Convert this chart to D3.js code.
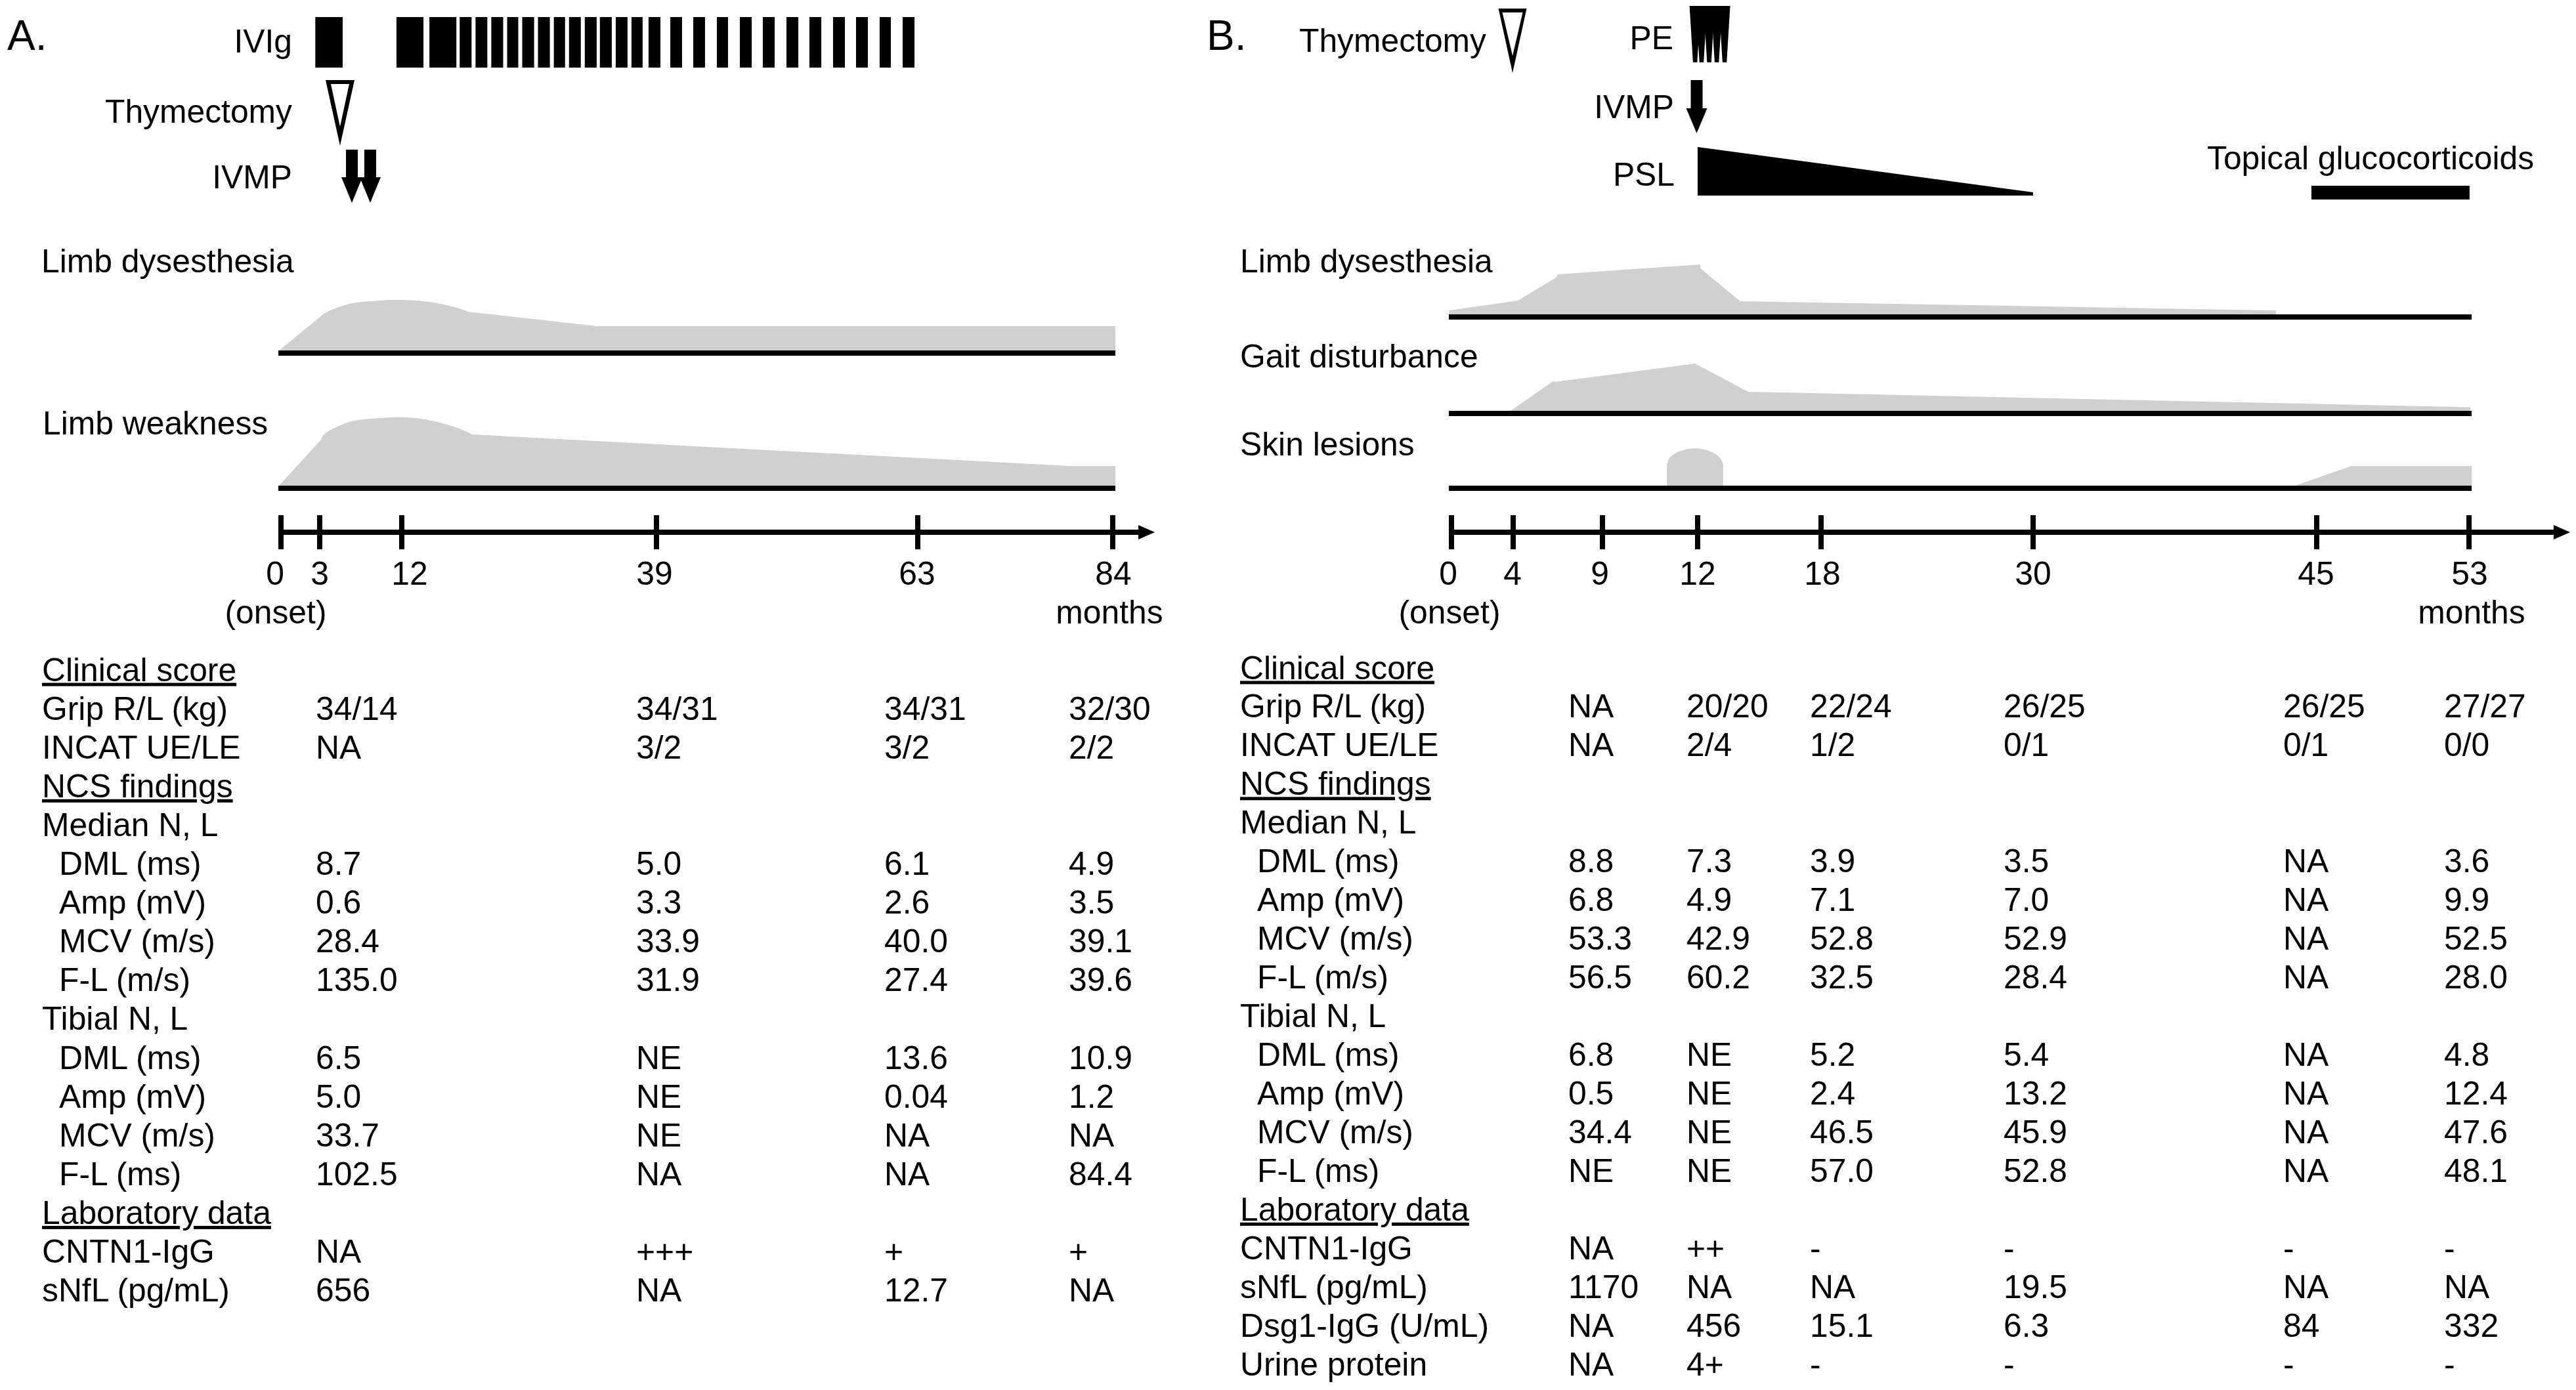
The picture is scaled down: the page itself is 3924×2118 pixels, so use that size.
<!DOCTYPE html>
<html lang="en">
<head>
<meta charset="utf-8">
<title>Clinical course of two cases</title>
<script src="https://d3js.org/d3.v7.min.js"></script>
<style>
  html, body { margin: 0; background: #fff; }
  text { font-family: "Liberation Sans", Arial, sans-serif; font-size: 49.8px; fill: #000; }
</style>
</head>
<body>
<script>
// ---- panel A data (months since onset) ----
const ticksA = [0, 3, 12, 39, 63, 84];
const ivigStartA = [2.66, 11.42, 14.93, 18.14, 19.82, 21.49, 23.17, 24.77, 26.44, 28.12, 29.73, 31.40, 33.00, 34.68, 36.35, 38.16, 40.27, 42.38, 44.55, 46.66, 48.77, 50.94, 53.05, 55.22, 57.33, 59.50, 61.61];
const ivigEndA   = [5.52, 14.30, 17.79, 19.40, 21.07, 22.75, 24.35, 26.03, 27.70, 29.31, 30.98, 32.66, 34.26, 35.93, 37.53, 39.36, 41.35, 43.46, 45.57, 47.75, 49.86, 52.03, 54.14, 56.31, 58.42, 60.53, 62.70];
const thymectomyA = [5.23];
const ivmpA = [6.53, 8.54];
const dysMonthsA = [-0.15, 3.29, 3.86, 6.24, 8.69, 11.06, 13.40, 15.77, 18.07, 18.98, 32.73, 84.28];
const dysLevelsA = [0, 5.4, 5.9, 7.1, 7.5, 7.7, 7.6, 7.2, 6.4, 5.9, 3.7, 3.7];
const weakMonthsA = [-0.15, 3.14, 3.86, 6.24, 8.69, 11.06, 13.40, 15.77, 18.07, 19.47, 79.4, 84.28];
const weakLevelsA = [0, 7.0, 8.2, 9.7, 10.2, 10.4, 10.3, 9.7, 8.7, 7.8, 3.0, 3.0];

const rowsA = ["Clinical score", "Grip R/L (kg)", "INCAT UE/LE", "NCS findings", "Median N, L", "DML (ms)", "Amp (mV)", "MCV (m/s)", "F-L (m/s)", "Tibial N, L", "DML (ms)", "Amp (mV)", "MCV (m/s)", "F-L (ms)", "Laboratory data", "CNTN1-IgG", "sNfL (pg/mL)"];
const col1A = ["", "34/14", "NA", "", "", "8.7", "0.6", "28.4", "135.0", "", "6.5", "5.0", "33.7", "102.5", "", "NA", "656"];
const col2A = ["", "34/31", "3/2", "", "", "5.0", "3.3", "33.9", "31.9", "", "NE", "NE", "NE", "NA", "", "+++", "NA"];
const col3A = ["", "34/31", "3/2", "", "", "6.1", "2.6", "40.0", "27.4", "", "13.6", "0.04", "NA", "NA", "", "+", "12.7"];
const col4A = ["", "32/30", "2/2", "", "", "4.9", "3.5", "39.1", "39.6", "", "10.9", "1.2", "NA", "84.4", "", "+", "NA"];

// ---- panel B data ----
const ticksB = [0, 4, 9, 12, 18, 30, 45, 53];
const thymectomyB = [3.96];
const peB = [11.92, 12.19, 12.56, 12.93, 13.31];
const ivmpB = [11.97];
const pslMonthsB = [12, 30];
const pslLevelsB = [7.4, 0.5];
const topicalB = [44.72, 53.03];
const dysMonthsB = [-0.15, 4.26, 6.39, 6.5, 12.13, 12.14, 14.07, 42.85];
const dysLevelsB = [0.6, 2.1, 5.6, 6.1, 7.6, 7.0, 2.0, 0.6];
const gaitMonthsB = [3.83, 6.28, 6.30, 11.92, 14.46, 53.07];
const gaitLevelsB = [0, 4.6, 4.4, 7.2, 2.9, 0.55];
const skinMonths1B = [11.03, 11.11, 11.32, 11.61, 11.92, 12.35, 12.77, 13.09, 13.24];
const skinLevels1B = [3.2, 4.2, 5.0, 5.5, 5.7, 5.5, 5.0, 4.2, 3.2];
const skinMonths2B = [43.85, 46.83, 53.14];
const skinLevels2B = [0, 3.0, 3.0];

const rowsB = ["Clinical score", "Grip R/L (kg)", "INCAT UE/LE", "NCS findings", "Median N, L", "DML (ms)", "Amp (mV)", "MCV (m/s)", "F-L (m/s)", "Tibial N, L", "DML (ms)", "Amp (mV)", "MCV (m/s)", "F-L (ms)", "Laboratory data", "CNTN1-IgG", "sNfL (pg/mL)", "Dsg1-IgG (U/mL)", "Urine protein"];
const col1B = ["", "NA", "NA", "", "", "8.8", "6.8", "53.3", "56.5", "", "6.8", "0.5", "34.4", "NE", "", "NA", "1170", "NA", "NA"];
const col2B = ["", "20/20", "2/4", "", "", "7.3", "4.9", "42.9", "60.2", "", "NE", "NE", "NE", "NE", "", "++", "NA", "456", "4+"];
const col3B = ["", "22/24", "1/2", "", "", "3.9", "7.1", "52.8", "32.5", "", "5.2", "2.4", "46.5", "57.0", "", "-", "NA", "15.1", "-"];
const col4B = ["", "26/25", "0/1", "", "", "3.5", "7.0", "52.9", "28.4", "", "5.4", "13.2", "45.9", "52.8", "", "-", "19.5", "6.3", "-"];
const col5B = ["", "26/25", "0/1", "", "", "NA", "NA", "NA", "NA", "", "NA", "NA", "NA", "NA", "", "-", "NA", "84", "-"];
const col6B = ["", "27/27", "0/0", "", "", "3.6", "9.9", "52.5", "28.0", "", "4.8", "12.4", "47.6", "48.1", "", "-", "NA", "332", "-"];

const headerRows = ["Clinical score", "NCS findings", "Laboratory data"];
const plainRows = ["Grip R/L (kg)", "INCAT UE/LE", "Median N, L", "Tibial N, L", "CNTN1-IgG", "sNfL (pg/mL)", "Dsg1-IgG (U/mL)", "Urine protein"];

// ---- layout ----
const w = 3924, h = 2118;
const grey = "#d0d0d0";
const axisY = 811;

// both time axes are not to scale, so the scales are piecewise
const xA = d3.scaleLinear().domain(ticksA).range([428, 487, 612, 1000, 1398, 1695]);
const xB = d3.scaleLinear().domain(ticksB).range([2211, 2305, 2441, 2586, 2774, 3097, 3529, 3761]);
// 10px per severity unit, counted up from each baseline
const level = d3.scaleLinear().domain([0, 10]).range([0, 100]);

const svg = d3.select("body").append("svg")
  .attr("width", w)
  .attr("height", h)
  .style("display", "block");

function label(txt, x, y, anchor, size) {
  return svg.append("text")
    .attr("x", x).attr("y", y)
    .attr("text-anchor", anchor || "start")
    .style("font-size", size ? size + "px" : null)
    .text(txt);
}

// filled area over a baseline, straight segments unless a curve is given
function area(x, months, levels, base, fill, curve) {
  const pts = months.map((m, i) => [m, levels[i]]);
  const gen = d3.area()
    .x(d => x(d[0]))
    .y0(base)
    .y1(d => base - level(d[1]))
    .curve(curve || d3.curveLinear);
  svg.append("path").attr("d", gen(pts)).attr("fill", fill);
}

function baseline(from, to, base) {
  svg.append("rect")
    .attr("x", from).attr("y", base)
    .attr("width", to - from).attr("height", 8)
    .attr("fill", "#000");
}

function timeAxis(x, ticks, labelDx, arrowEnd) {
  const g = svg.append("g")
    .attr("transform", "translate(0," + axisY + ")")
    .call(d3.axisBottom(x).tickValues(ticks).tickSizeOuter(0).offset(0));
  g.select(".domain").remove();
  g.selectAll(".tick line")
    .attr("y1", -26).attr("y2", 26)
    .attr("stroke", "#000").attr("stroke-width", 8);
  g.selectAll(".tick text")
    .attr("y", 80).attr("dy", 0)
    .attr("dx", (d, i) => labelDx[i]);
  g.append("line")
    .attr("x1", x(ticks[0]) - 4).attr("x2", arrowEnd - 15)
    .attr("stroke", "#000").attr("stroke-width", 8);
  g.append("path")
    .attr("d", d3.line()([[arrowEnd - 25, -11], [arrowEnd, 0], [arrowEnd - 25, 11]]) + "Z")
    .attr("fill", "#000");
}

// open triangle with a thick outline, pointing at the month
function openTriangle(cx, top, tip, hw, innerTop, innerTip, innerHw) {
  const line = d3.line();
  svg.append("path")
    .attr("d", line([[cx - hw, top], [cx + hw, top], [cx, tip]]) + "Z")
    .attr("fill", "#000");
  svg.append("path")
    .attr("d", line([[cx - innerHw, innerTop], [cx + innerHw, innerTop], [cx, innerTip]]) + "Z")
    .attr("fill", "#fff");
}

function downArrow(cx, top, neck, tip, shaftHw, headHw) {
  svg.append("path")
    .attr("d", d3.line()([[cx - shaftHw, top], [cx + shaftHw, top], [cx + shaftHw, neck], [cx + headHw, neck], [cx, tip], [cx - headHw, neck], [cx - shaftHw, neck]]) + "Z")
    .attr("fill", "#000");
}

function table(rows, cols, colX, nameX, indentX, y0, step) {
  const y = d3.scalePoint().domain(d3.range(rows.length)).range([y0, y0 + step * (rows.length - 1)]);
  const cx = d3.scaleOrdinal().domain(d3.range(cols.length)).range(colX);
  rows.forEach((r, i) => {
    const flush = headerRows.includes(r) || plainRows.includes(r);
    const t = label(r, flush ? nameX : indentX, y(i));
    if (headerRows.includes(r)) t.style("text-decoration", "underline");
  });
  cols.forEach((col, c) => {
    svg.append("g").selectAll("text")
      .data(col)
      .join("text")
      .attr("x", cx(c))
      .attr("y", (d, i) => y(i))
      .text(d => d);
  });
}

// ---- panel A ----
label("A.", 11, 76, "start", 64);
label("IVIg", 445, 80, "end");
label("Thymectomy", 445, 187, "end");
label("IVMP", 445, 287, "end");
label("Limb dysesthesia", 63, 415);
label("Limb weakness", 65, 662);

svg.append("g").selectAll("rect")
  .data(ivigStartA)
  .join("rect")
  .attr("x", d => xA(d))
  .attr("y", 26)
  .attr("width", (d, i) => xA(ivigEndA[i]) - xA(d))
  .attr("height", 77)
  .attr("fill", "#000");

thymectomyA.forEach(m => openTriangle(xA(m), 122, 222, 22, 128, 193, 14));
ivmpA.forEach(m => downArrow(xA(m), 228, 270, 309, 9, 16));

area(xA, dysMonthsA, dysLevelsA, 534, grey);
area(xA, dysMonthsA.slice(1, 10), dysLevelsA.slice(1, 10), 534, grey, d3.curveNatural);
baseline(424, 1699, 534);
area(xA, weakMonthsA, weakLevelsA, 740, grey);
area(xA, weakMonthsA.slice(1, 10), weakLevelsA.slice(1, 10), 740, grey, d3.curveNatural);
baseline(424, 1699, 740);

timeAxis(xA, ticksA, [-9, 0, 12, -3, -1, 1], 1759);
label("(onset)", 420, 950, "middle");
label("months", 1690, 950, "middle");

table(rowsA, [col1A, col2A, col3A, col4A], [481, 969, 1347, 1628], 64, 90, 1037.5, 59.1);

// ---- panel B ----
label("B.", 1838, 76, "start", 64);
label("Thymectomy", 2264, 79, "end");
label("PE", 2549, 75, "end");
label("IVMP", 2550, 180, "end");
label("PSL", 2551, 283, "end");
label("Topical glucocorticoids", 3362, 258);
label("Limb dysesthesia", 1889, 415);
label("Gait disturbance", 1889, 560);
label("Skin lesions", 1889, 694);

thymectomyB.forEach(m => openTriangle(xB(m), 13, 111, 21.5, 19, 85, 15.5));

// plasma exchange: five wedges that overlap at the top
svg.append("g").selectAll("path")
  .data(peB)
  .join("path")
  .attr("d", m => {
    const cx = xB(m);
    return d3.line()([[cx - 8.5, 9], [cx + 8.5, 9], [cx + 3.2, 95], [cx - 3.2, 95]]) + "Z";
  })
  .attr("fill", "#000");

ivmpB.forEach(m => downArrow(xB(m), 122, 165, 203, 9, 16));

area(xB, pslMonthsB, pslLevelsB, 298, "#000");

svg.append("rect")
  .attr("x", xB(topicalB[0]))
  .attr("y", 283)
  .attr("width", xB(topicalB[1]) - xB(topicalB[0]))
  .attr("height", 21)
  .attr("fill", "#000");

area(xB, dysMonthsB, dysLevelsB, 479, grey);
baseline(2207, 3765, 479);
area(xB, gaitMonthsB, gaitLevelsB, 626, grey);
baseline(2207, 3765, 626);
area(xB, skinMonths1B, skinLevels1B, 740, grey, d3.curveNatural);
area(xB, skinMonths2B, skinLevels2B, 740, grey);
baseline(2207, 3765, 740);

timeAxis(xB, ticksB, [-5, -1, -4, 0, 2, 0, -1, 1], 3915);
label("(onset)", 2208, 950, "middle");
label("months", 3765, 950, "middle");

table(rowsB, [col1B, col2B, col3B, col4B, col5B, col6B], [2389, 2569, 2757, 3052, 3478, 3723], 1889, 1915, 1034.5, 58.95);
</script>
</body>
</html>
